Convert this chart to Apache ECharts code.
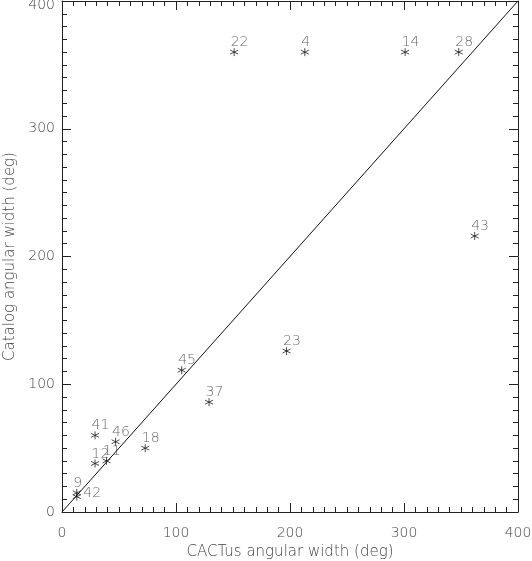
<!DOCTYPE html>
<html>
<head>
<meta charset="utf-8">
<script src="https://cdn.jsdelivr.net/npm/echarts@6/dist/echarts.min.js"></script>
<style>
  html, body { margin: 0; padding: 0; background: #fff; }
  #chart { width: 532px; height: 561px; }
</style>
</head>
<body>
<div id="chart"></div>
<script>
// event ids and widths (deg)
const eventIds = ["22", "4", "14", "28", "43", "23", "45", "37", "18", "46", "41", "12", "11", "9", "42"];
const cactusWidth = [151, 213, 301, 348, 362, 197, 105, 129, 73, 47, 29, 29, 39, 13, 13];
const catalogWidth = [360, 360, 360, 360, 216, 126, 111, 86, 50, 55, 60, 38, 40, 15, 12];
// y = x reference line
const diagonal = [[0, 0], [400, 400]];
const axisTicks = [0, 100, 200, 300, 400];

const textColor = "#444";
const fontFamily = "DejaVu Sans";
const fontWeight = 200;

// asterisk marker (vertical + two diagonals)
const starPath = "path://M0,-1L0,1M-0.87,-0.5L0.87,0.5M-0.87,0.5L0.87,-0.5";

// label placement relative to the marker box
const labelPos = { "42": [13, 3] };

const points = eventIds.map((id, i) => ({
  value: [cactusWidth[i], catalogWidth[i]],
  label: { position: labelPos[id] || [3, -3] },
}));

const labelFont = { color: textColor, fontSize: 14, fontFamily: fontFamily, fontWeight: fontWeight };

// one side of the plot box, ticks pointing inwards (major every 100, minor every 10)
function boxAxis(position, extra) {
  return Object.assign({
    type: "value",
    position: position,
    min: axisTicks[0],
    max: axisTicks[axisTicks.length - 1],
    interval: axisTicks[1] - axisTicks[0],
    splitLine: { show: false },
    axisLine: { show: true, onZero: false, lineStyle: { color: "#222", width: 1 } },
    axisTick: { show: true, inside: true, length: 9, lineStyle: { color: "#222" } },
    minorTick: { show: true, splitNumber: 10, length: 5, lineStyle: { color: "#222" } },
    axisLabel: { show: false },
  }, extra);
}

const options = {
  animation: false,
  backgroundColor: "#fff",
  textStyle: { fontFamily: fontFamily },
  grid: { left: 62, right: 14, top: 1, bottom: 49, containLabel: false, outerBoundsMode: "none" },
  xAxis: [
    boxAxis("bottom", {
      name: "CACTus angular width (deg)",
      nameLocation: "middle",
      nameGap: 33,
      nameTextStyle: Object.assign({}, labelFont, { fontSize: 15 }),
      axisLabel: Object.assign({ show: true, margin: 14 }, labelFont),
    }),
    boxAxis("top"),
  ],
  yAxis: [
    boxAxis("left", {
      name: "Catalog angular width (deg)",
      nameLocation: "middle",
      nameGap: 42,
      nameTextStyle: Object.assign({}, labelFont, { fontSize: 15 }),
      axisLabel: Object.assign({
        show: true,
        margin: 7,
        formatter: (v) => (v === 400 ? "{t|" + v + "}" : String(v)),
        rich: { t: Object.assign({ padding: [8, 0, 0, 0] }, labelFont) },
      }, labelFont),
    }),
    boxAxis("right"),
  ],
  series: [
    {
      type: "line",
      data: diagonal,
      symbol: "none",
      lineStyle: { color: "#111", width: 1 },
      silent: true,
    },
    {
      type: "scatter",
      data: points,
      symbol: starPath,
      symbolSize: 8,
      itemStyle: { color: "none", borderColor: "#222", borderWidth: 1 },
      label: Object.assign({
        show: true,
        formatter: (p) => eventIds[p.dataIndex],
        align: "left",
        verticalAlign: "middle",
      }, labelFont),
    },
  ],
};

const chart = echarts.init(document.getElementById("chart"), null, { renderer: "canvas" });
chart.setOption(options);
</script>
</body>
</html>
